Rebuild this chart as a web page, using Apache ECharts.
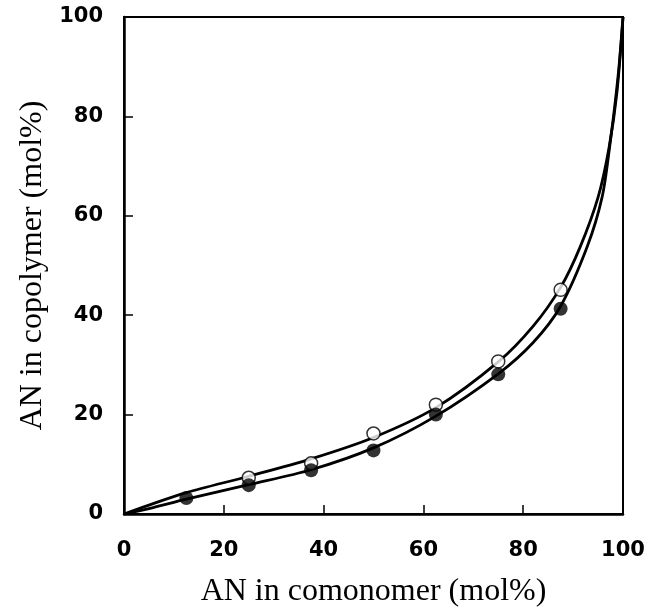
<!DOCTYPE html>
<html>
<head>
<meta charset="utf-8">
<script src="https://cdn.jsdelivr.net/npm/echarts@6/dist/echarts.min.js"></script>
<style>
  html, body { margin: 0; padding: 0; background: #fff; }
  #chart { width: 650px; height: 613px; }
</style>
</head>
<body>
<div id="chart"></div>
<script>
const xTicks = [0, 20, 40, 60, 80, 100]
const yTicks = [0, 20, 40, 60, 80, 100]

const openX = [25, 37.5, 50, 62.5, 75, 87.5]
const openY = [7.3, 10.2, 16.2, 22, 30.7, 45.1]
const filledX = [12.5, 25, 37.5, 50, 62.5, 75, 87.5]
const filledY = [3.2, 5.8, 8.8, 12.8, 20, 28.1, 41.3]

const upperCurveX = [0, 5, 12.5, 25, 37.5, 50, 62.5, 75, 82, 87.5, 91.4, 95, 97.2, 98.8, 100]
const upperCurveY = [0, 1.8, 4.3, 7.6, 11.1, 15.4, 21.4, 30.6, 37.8, 45.6, 53.7, 63.7, 73.7, 85, 100]
const lowerCurveX = [0, 5, 12.5, 25, 37.5, 50, 62.5, 75, 82, 87.5, 92.8, 95.8, 97.3, 99, 100]
const lowerCurveY = [0, 1.1, 3.0, 5.9, 8.9, 13.3, 19.7, 28.2, 34.5, 41.8, 53.7, 63.7, 73.7, 88, 100]

const zip = (xs, ys) => xs.map((x, i) => [x, ys[i]])

const chart = echarts.init(document.getElementById('chart'))

const tickFont = {
  color: '#000',
  fontFamily: 'DejaVu Sans',
  fontWeight: 'bold',
  fontSize: 21
}
const titleFont = {
  color: '#000',
  fontFamily: 'Liberation Serif',
  fontSize: 32
}

const option = {
  animation: false,
  backgroundColor: '#fff',
  grid: {
    left: 124,
    right: 27,
    top: 17,
    bottom: 94,
    show: true,
    borderColor: '#000',
    borderWidth: 2
  },
  xAxis: {
    type: 'value',
    min: 0,
    max: 100,
    interval: 20,
    name: 'AN in comonomer (mol%)',
    nameLocation: 'middle',
    nameGap: 62,
    nameTextStyle: titleFont,
    axisLine: { show: true, onZero: false, lineStyle: { color: '#000', width: 2.5 } },
    axisTick: { show: true, inside: true, length: 9, lineStyle: { color: '#000', width: 1.5 } },
    axisLabel: Object.assign({ margin: 26, formatter: v => xTicks.includes(v) ? String(v) : '' }, tickFont),
    splitLine: { show: false }
  },
  yAxis: {
    type: 'value',
    min: 0,
    max: 100,
    interval: 20,
    name: 'AN in copolymer (mol%)',
    nameLocation: 'middle',
    nameGap: 74,
    nameTextStyle: titleFont,
    axisLine: { show: true, onZero: false, lineStyle: { color: '#000', width: 2.5 } },
    axisTick: { show: true, inside: true, length: 9, lineStyle: { color: '#000', width: 1.5 } },
    axisLabel: Object.assign({ margin: 21, formatter: v => yTicks.includes(v) ? String(v) : '' }, tickFont),
    splitLine: { show: false }
  },
  series: [
    {
      type: 'line',
      data: zip(upperCurveX, upperCurveY),
      smooth: 0.3,
      symbol: 'none',
      lineStyle: { color: '#000', width: 2.8 },
      z: 2
    },
    {
      type: 'line',
      data: zip(lowerCurveX, lowerCurveY),
      smooth: 0.3,
      symbol: 'none',
      lineStyle: { color: '#000', width: 2.8 },
      z: 2
    },
    {
      type: 'scatter',
      data: zip(openX, openY),
      symbol: 'circle',
      symbolSize: 13,
      itemStyle: { color: '#fff', borderColor: '#000', borderWidth: 1.5 },
      z: 3
    },
    {
      type: 'scatter',
      data: zip(filledX, filledY),
      symbol: 'circle',
      symbolSize: 14,
      itemStyle: { color: '#000' },
      z: 4
    }
  ]
}

chart.setOption(option)
</script>
</body>
</html>
